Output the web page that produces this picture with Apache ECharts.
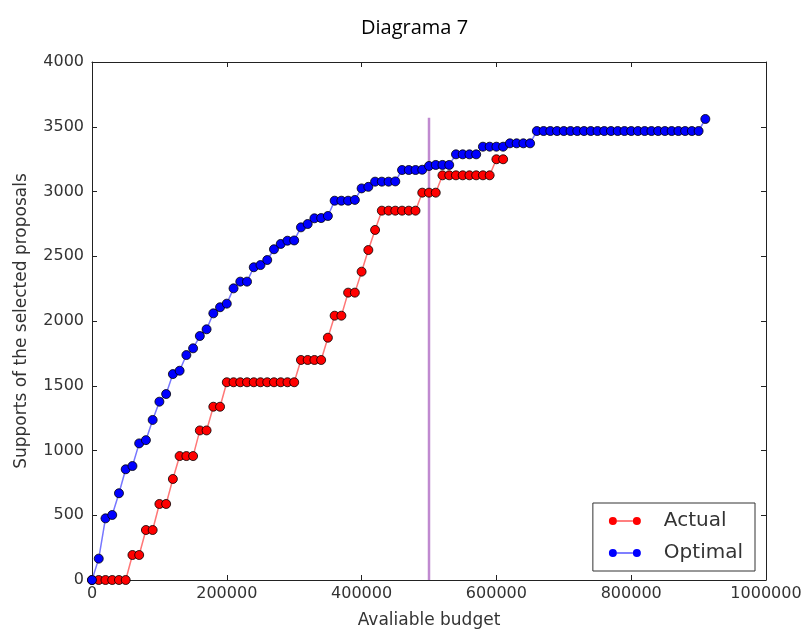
<!DOCTYPE html>
<html><head><meta charset="utf-8">
<script src="https://cdn.jsdelivr.net/npm/echarts@6/dist/echarts.min.js"></script>
<style>html,body{margin:0;padding:0;background:#fff}#c{width:804px;height:632px}</style>
</head><body><div id="c"></div>
<script>
const budget = [0,10000,20000,30000,40000,50000,60000,70000,80000,90000,
100000,110000,120000,130000,140000,150000,160000,170000,180000,190000,
200000,210000,220000,230000,240000,250000,260000,270000,280000,290000,
300000,310000,320000,330000,340000,350000,360000,370000,380000,390000,
400000,410000,420000,430000,440000,450000,460000,470000,480000,490000,
500000,510000,520000,530000,540000,550000,560000,570000,580000,590000,
600000,610000,620000,630000,640000,650000,660000,670000,680000,690000,
700000,710000,720000,730000,740000,750000,760000,770000,780000,790000,
800000,810000,820000,830000,840000,850000,860000,870000,880000,890000,
900000,910000];

const actual = [0,0,0,0,0,0,193,193,386,386,
587,587,780,957,957,957,1155,1155,1338,1338,
1527,1527,1527,1527,1527,1527,1527,1527,1527,1527,
1527,1699,1699,1699,1699,1871,2041,2041,2219,2219,
2381,2548,2703,2852,2852,2852,2852,2852,2852,2991,
2991,2991,3125,3125,3125,3125,3125,3125,3125,3125,
3249,3249];

const optimal = [0,165,476,502,670,855,880,1055,1080,1236,
1377,1436,1590,1616,1737,1789,1884,1936,2059,2106,
2134,2252,2304,2304,2415,2432,2471,2554,2595,2620,
2622,2723,2749,2793,2795,2811,2929,2929,2929,2935,
3024,3036,3076,3076,3076,3078,3166,3166,3166,3168,
3197,3205,3205,3205,3287,3287,3287,3287,3346,3346,
3346,3346,3372,3372,3372,3372,3467,3467,3467,3467,
3467,3467,3467,3467,3467,3467,3467,3467,3467,3467,
3467,3467,3467,3467,3467,3467,3467,3467,3467,3467,
3467,3560];

const budgetLimit = 500000;
const limitTop = 3570;
const seriesNames = ['Actual', 'Optimal'];

const actualData = actual.map((v, i) => [budget[i], v]);
const optimalData = optimal.map((v, i) => [budget[i], v]);

const axisColor = '#222';
const tickFont = {fontFamily: 'DejaVu Sans', fontSize: 16, color: '#333'};

function xAx(pos, labels) {
  return {
    type: 'value', min: 0, max: 1000000, interval: 200000, position: pos,
    axisLine: {show: true, onZero: false, lineStyle: {color: axisColor, width: 1}},
    axisTick: {show: true, inside: true, length: 5, lineStyle: {color: axisColor}},
    axisLabel: Object.assign({show: labels, margin: 6, formatter: v => String(v)}, tickFont),
    splitLine: {show: false}
  };
}
function yAx(pos, labels) {
  return {
    type: 'value', min: 0, max: 4000, interval: 500, position: pos,
    axisLine: {show: true, onZero: false, lineStyle: {color: axisColor, width: 1}},
    axisTick: {show: true, inside: true, length: 5, lineStyle: {color: axisColor}},
    axisLabel: Object.assign({show: labels, margin: 8, formatter: v => String(v)}, tickFont),
    splitLine: {show: false}
  };
}

const xa0 = xAx('bottom', true);
xa0.name = 'Avaliable budget';
xa0.nameLocation = 'middle';
xa0.nameGap = 32;
xa0.nameTextStyle = {fontFamily: 'DejaVu Sans', fontSize: 17, color: '#333'};
const ya0 = yAx('left', true);
ya0.name = 'Supports of the selected proposals';
ya0.nameLocation = 'middle';
ya0.nameGap = 62;
ya0.nameTextStyle = {fontFamily: 'DejaVu Sans', fontSize: 17, color: '#333'};

const chart = echarts.init(document.getElementById('c'), null, {renderer: 'canvas'});
chart.setOption({
  animation: false,
  backgroundColor: '#fff',
  title: {
    text: 'Diagrama 7', left: 361, top: 18, padding: 0,
    textStyle: {fontFamily: 'Open Sans', fontSize: 20, fontWeight: 'normal', color: '#000'}
  },
  grid: {left: 92, right: 38, top: 62, bottom: 52, containLabel: false, outerBoundsMode: 'none'},
  xAxis: [xa0, xAx('top', false)],
  yAxis: [ya0, yAx('right', false)],
  legend: {
    orient: 'vertical', right: 49, bottom: 61,
    data: seriesNames,
    icon: 'path://M0,5A5,5,0,1,1,10,5A5,5,0,1,1,0,5ZM10,4.3L30,4.3L30,5.7L10,5.7ZM30,5A5,5,0,1,1,40,5A5,5,0,1,1,30,5Z',
    itemWidth: 32, itemHeight: 8, itemGap: 12,
    padding: [8, 12, 8, 16],
    borderColor: '#333', borderWidth: 1, borderRadius: 0, backgroundColor: '#fff',
    itemStyle: {borderWidth: 0},
    textStyle: {fontFamily: 'DejaVu Sans', fontSize: 20, color: '#333', padding: [0, 0, 0, 18]}
  },
  series: [
    {
      type: 'line', name: 'limit', data: [[budgetLimit, 0], [budgetLimit, limitTop]],
      symbol: 'none', silent: true, z: 1,
      lineStyle: {color: '#c08ad0', width: 2.5}
    },
    {
      type: 'line', name: seriesNames[0], data: actualData, z: 3,
      symbol: 'circle', symbolSize: 9, showSymbol: true, showAllSymbol: true,
      itemStyle: {color: '#ff0000', borderColor: '#000', borderWidth: 0.8},
      lineStyle: {color: '#ff7777', width: 1.5},
      emphasis: {disabled: true}
    },
    {
      type: 'line', name: seriesNames[1], data: optimalData, z: 4,
      symbol: 'circle', symbolSize: 9, showSymbol: true, showAllSymbol: true,
      itemStyle: {color: '#0000ff', borderColor: '#000', borderWidth: 0.8},
      lineStyle: {color: '#7777ff', width: 1.5},
      emphasis: {disabled: true}
    }
  ]
});
</script></body></html>
